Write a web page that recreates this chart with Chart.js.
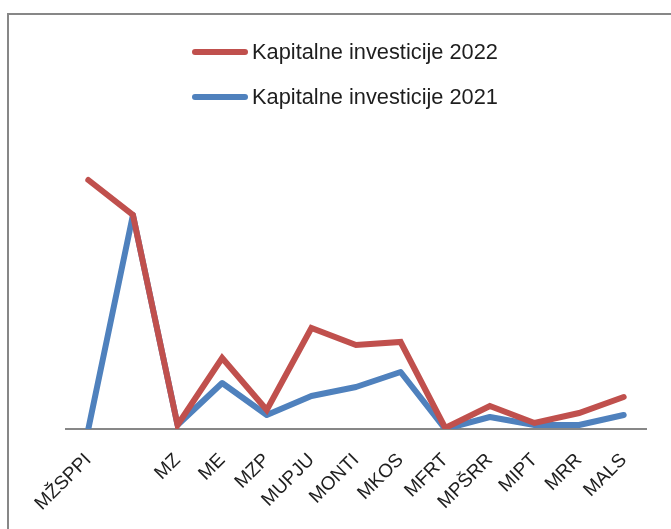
<!DOCTYPE html>
<html>
<head>
<meta charset="utf-8">
<script src="https://cdn.jsdelivr.net/npm/chart.js@4"></script>
<style>
  html, body { margin: 0; padding: 0; background: #fff; }
  body { width: 671px; height: 529px; overflow: hidden; position: relative; font-family: "Liberation Sans", Arial, sans-serif; }
  #frame { position: absolute; left: 7px; top: 13px; width: 700px; height: 600px; border-left: 2px solid #878787; border-top: 2px solid #878787; }
  #chartBox { position: absolute; left: 0; top: 0; }
  .leg { position: absolute; left: 192px; height: 24px; display: flex; align-items: center; font-size: 21.8px; color: #1e1e1e; white-space: nowrap; }
  .leg span.line { display: inline-block; width: 56px; height: 6px; border-radius: 3px; margin-right: 4px; }
</style>
</head>
<body>
<div id="frame"></div>
<div id="chartBox"><canvas id="lineCanvas" width="671" height="529"></canvas></div>
<div id="legend"></div>
<script>
// categories (second one has no label in the original)
const categories = ['MŽSPPI', '', 'MZ', 'ME', 'MZP', 'MUPJU', 'MONTI', 'MKOS', 'MFRT', 'MPŠRR', 'MIPT', 'MRR', 'MALS'];
const seriesNames = ['Kapitalne investicije 2022', 'Kapitalne investicije 2021'];
const inv2022 = [249, 214, 4, 71, 19, 101, 84, 87, 1, 23, 6, 16, 32];
const inv2021 = [0, 214, 4, 46, 14, 33, 42, 57, 0, 12, 4, 4, 14];
const colors = ['#C0504D', '#4F81BD'];

// legend stacked in two rows, like the original
const legendDiv = document.getElementById('legend');
const legendTops = [40, 85];
seriesNames.forEach((name, i) => {
    const row = document.createElement('div');
    row.className = 'leg';
    row.style.top = legendTops[i] + 'px';
    row.innerHTML = '<span class="line" style="background:' + colors[i] + '"></span>' + name;
    legendDiv.appendChild(row);
});

const ctx = document.getElementById('lineCanvas').getContext('2d');
const lineChart = new Chart(ctx, {
    type: 'line',
    data: {
        labels: categories,
        datasets: [
            {
                label: seriesNames[0],
                data: inv2022,
                borderColor: colors[0],
                borderWidth: 6,
                borderCapStyle: 'round',
                pointRadius: 0,
                tension: 0,
                order: 0
            },
            {
                label: seriesNames[1],
                data: inv2021,
                borderColor: colors[1],
                borderWidth: 6,
                borderCapStyle: 'round',
                borderJoinStyle: 'round',
                pointRadius: 0,
                tension: 0,
                order: 1
            }
        ]
    },
    options: {
        responsive: false,
        animation: false,
        layout: { padding: { left: 66, right: 25, top: 129, bottom: 0 } },
        plugins: {
            legend: { display: false },
            tooltip: { enabled: false }
        },
        scales: {
            x: {
                offset: true,
                grid: { display: false, drawTicks: false },
                border: { display: true, color: '#878787', width: 2 },
                ticks: {
                    autoSkip: false,
                    minRotation: 45,
                    maxRotation: 45,
                    padding: 20,
                    color: '#1e1e1e',
                    font: { family: 'Liberation Sans', size: 19 }
                },
                afterFit(scale) { scale.height = 100; }
            },
            y: {
                display: false,
                min: 0,
                max: 300
            }
        }
    }
});
</script>
</body>
</html>
